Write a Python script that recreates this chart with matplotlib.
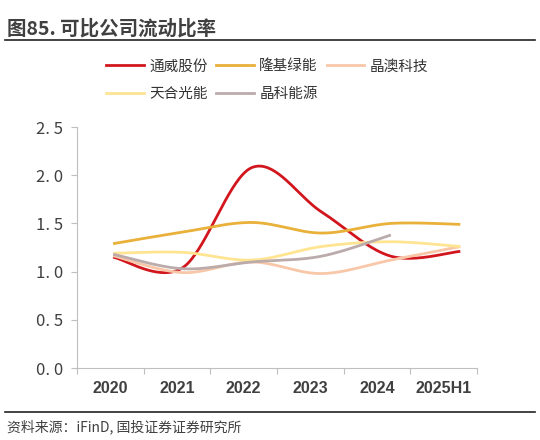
import numpy as np
import matplotlib
matplotlib.use('Agg')
import matplotlib.pyplot as plt
from matplotlib.lines import Line2D

plt.rcParams['font.family'] = ['Noto Sans CJK SC', 'DejaVu Sans']

years = ['2020', '2021', '2022', '2023', '2024', '2025H1']
tongwei = [1.15, 1.04, 2.08, 1.62, 1.16, 1.21]
longi = [1.29, 1.41, 1.51, 1.40, 1.50, 1.49]
jingao = [1.165, 0.99, 1.10, 0.98, 1.12, 1.26]
tianhe = [1.19, 1.20, 1.12, 1.26, 1.31, 1.26]
jinko = [1.18, 1.03, 1.10, 1.16, 1.38]

names = ['通威股份', '隆基绿能', '晶澳科技', '天合光能', '晶科能源']
colors = ['#D2161E', '#E9B03A', '#F8C7A8', '#FFE492', '#BBABAB']


def smooth(ys, n=40):
    # excel style smoothed line: cubic bezier with catmull-rom controls
    ys = np.asarray(ys, float)
    xs = np.arange(len(ys), dtype=float)
    P = np.column_stack([xs, ys])
    P = np.vstack([P[0], P, P[-1]])
    out = []
    for i in range(1, len(P) - 2):
        p0, p1, p2, p3 = P[i - 1], P[i], P[i + 1], P[i + 2]
        c1 = p1 + (p2 - p0) / 6
        c2 = p2 - (p3 - p1) / 6
        t = np.linspace(0, 1, n)[:, None]
        seg = (1 - t) ** 3 * p1 + 3 * (1 - t) ** 2 * t * c1 + 3 * (1 - t) * t ** 2 * c2 + t ** 3 * p2
        out.append(seg if i == 1 else seg[1:])
    seg = np.vstack(out)
    return seg[:, 0], seg[:, 1]


fig = plt.figure(figsize=(5.4, 4.4), dpi=100)
ax = fig.add_axes([0.1426, 0.1636, 0.7407, 0.5477])

for data, name, c in zip([tongwei, longi, jingao, tianhe, jinko], names, colors):
    sx, sy = smooth(data)
    ax.plot(sx, sy, color=c, lw=2, label=name, solid_capstyle='butt')

# category boundaries and label positions
lo, hi = -0.52, 5.24
bounds = np.linspace(lo, hi, len(years) + 1)
mids = (bounds[:-1] + bounds[1:]) / 2
ax.set_xlim(lo, hi)
ax.set_ylim(0, 2.5)
ax.set_xticks(bounds)
ax.set_xticklabels([])
ax.set_xticks(mids, minor=True)
ax.set_xticklabels(years, minor=True, family=['Liberation Sans', 'DejaVu Sans'],
                   fontsize=11.5, fontweight='bold', color='#404040')
ax.tick_params(axis='x', which='minor', length=0, pad=9)
ax.tick_params(axis='x', which='major', length=4, color='#BFBFBF', direction='out')
ax.set_yticks(np.arange(0, 2.51, 0.5))
ax.set_yticklabels([f'{v:.1f}'.replace('.', '. ') for v in np.arange(0, 2.51, 0.5)],
                   fontsize=12, color='#404040')
ax.tick_params(axis='y', length=4, color='#BFBFBF', pad=6)
for s in ['top', 'right']:
    ax.spines[s].set_visible(False)
ax.spines['left'].set_color('#BFBFBF')
ax.spines['bottom'].set_color('#BFBFBF')

# legend fills by column, so order items to read row by row
order = [0, 3, 1, 4, 2]
handles = [Line2D([], [], color=colors[i], lw=2) for i in order]
fig.legend(handles, [names[i] for i in order], loc='upper left',
           bbox_to_anchor=(0.172, 0.895), ncol=3, frameon=False, fontsize=10.5,
           handlelength=2.6, handletextpad=0.35, columnspacing=0.6,
           labelspacing=0.95, labelcolor='#333333')

fig.text(0.013, 0.935, '图85. 可比公司流动比率', fontsize=14, fontweight='bold',
         color='#404040', va='center')
fig.add_artist(Line2D([0.01, 0.99], [0.908, 0.908], color='#222222', lw=1.2))
fig.add_artist(Line2D([0.01, 0.99], [0.063, 0.063], color='#222222', lw=1.2))
fig.text(0.013, 0.03, '资料来源：iFinD, 国投证券证券研究所', fontsize=10,
         style='italic', color='#404040', va='center')

plt.savefig('out.png', dpi=100)
